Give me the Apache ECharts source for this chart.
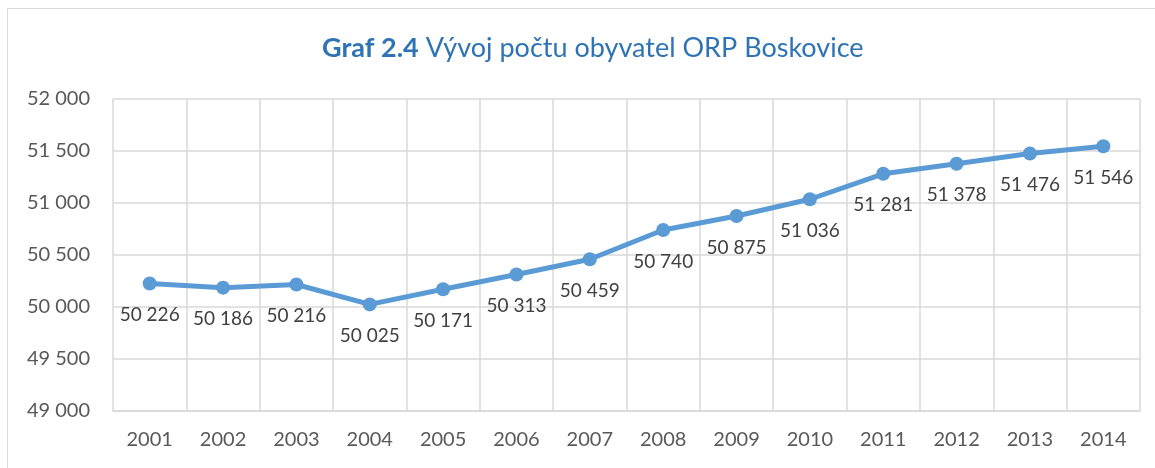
<!DOCTYPE html>
<html>
<head>
<meta charset="utf-8">
<script src="https://cdn.jsdelivr.net/npm/echarts@6/dist/echarts.min.js"></script>
<style>
  html, body { margin: 0; padding: 0; background: #fff; }
  #main { width: 1155px; height: 468px; }
</style>
</head>
<body>
<div id="main"></div>
<script>
var years = ['2001', '2002', '2003', '2004', '2005', '2006', '2007',
  '2008', '2009', '2010', '2011', '2012', '2013', '2014'];
var obyvatele = [50226, 50186, 50216, 50025, 50171, 50313, 50459,
  50740, 50875, 51036, 51281, 51378, 51476, 51546];

// cislo s mezerou jako oddelovacem tisicu (50 226)
function fmt(v) {
  return String(v).replace(/\B(?=(\d{3})+(?!\d))/g, ' ');
}

var myChart = echarts.init(document.getElementById('main'));
var font = 'Lato, "Open Sans", sans-serif';

var option = {
  backgroundColor: '#fff',
  animation: false,
  graphic: [{
    type: 'rect',
    shape: { x: 7.5, y: 8.5, width: 1160, height: 480 },
    style: { fill: null, stroke: '#d9d9d9', lineWidth: 1 }
  }],
  title: {
    text: '{b|Graf 2.4} Vývoj počtu obyvatel ORP Boskovice',
    left: 317,
    top: 30,
    textStyle: {
      fontFamily: font,
      fontSize: 27,
      fontWeight: 'normal',
      color: '#2e74b5',
      rich: {
        b: { fontFamily: font, fontSize: 27, fontWeight: 'bold', color: '#2e74b5' }
      }
    }
  },
  grid: { left: 113, right: 15, top: 99, bottom: 57 },
  xAxis: {
    type: 'category',
    data: years,
    boundaryGap: true,
    axisLine: { lineStyle: { color: '#d9d9d9', width: 1.5 } },
    axisTick: { show: false },
    splitLine: { show: true, lineStyle: { color: '#d9d9d9', width: 1.5 } },
    axisLabel: { color: '#595959', fontFamily: font, fontSize: 20, margin: 19 }
  },
  yAxis: {
    type: 'value',
    min: 49000,
    max: 52000,
    interval: 500,
    axisLine: { show: false },
    axisTick: { show: false },
    splitLine: { lineStyle: { color: '#d9d9d9', width: 1.5 } },
    axisLabel: {
      color: '#595959', fontFamily: font, fontSize: 20, margin: 23,
      formatter: fmt
    }
  },
  series: [{
    type: 'line',
    data: obyvatele,
    symbol: 'circle',
    symbolSize: 14,
    lineStyle: { color: '#5b9bd5', width: 5 },
    itemStyle: { color: '#5b9bd5' },
    label: {
      show: true,
      position: 'bottom',
      distance: 15,
      color: '#404040',
      fontFamily: font,
      fontSize: 19,
      formatter: function (p) { return fmt(p.value); }
    }
  }]
};

myChart.setOption(option);
window.onresize = myChart.resize;
</script>
</body>
</html>
